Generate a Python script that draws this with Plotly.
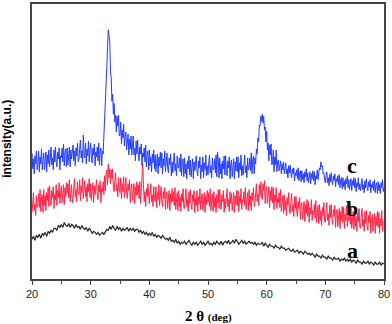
import plotly.graph_objects as go

# XRD patterns: b and c read at a 0.125 deg step, a at 0.25 deg, 20-80 deg
two_theta_fine = [20 + 0.125 * i for i in range(481)]
two_theta = [20 + 0.25 * i for i in range(241)]

intensity_c = [
    127, 111, 121, 106, 124, 116, 129, 110, 114, 129, 108, 123, 116, 131, 110, 120,
    127, 110, 122, 128, 108, 125, 116, 130, 113, 124, 133, 115, 122, 110, 130, 118,
    133, 118, 113, 128, 121, 132, 110, 124, 122, 132, 118, 136, 114, 128, 131, 113,
    132, 115, 127, 133, 113, 130, 121, 135, 135, 119, 129, 114, 132, 124, 137, 118,
    120, 131, 140, 122, 129, 117, 145, 125, 122, 137, 116, 131, 124, 139, 118, 128,
    137, 122, 117, 132, 125, 136, 114, 128, 123, 133, 119, 137, 115, 129, 132, 114,
    129, 126, 143, 147, 169, 180, 213, 233, 251, 245, 239, 209, 203, 179, 186, 166,
    177, 158, 165, 148, 164, 154, 165, 144, 145, 158, 136, 150, 142, 156, 134, 143,
    148, 130, 141, 146, 125, 141, 131, 144, 125, 135, 144, 125, 132, 119, 139, 126,
    140, 124, 119, 133, 126, 136, 114, 127, 123, 132, 118, 135, 113, 126, 129, 110,
    130, 114, 123, 108, 126, 117, 130, 111, 125, 108, 120, 126, 106, 123, 114, 128,
    112, 127, 106, 121, 114, 129, 108, 118, 127, 112, 107, 122, 115, 126, 104, 118,
    107, 118, 127, 109, 116, 104, 124, 112, 112, 122, 108, 126, 104, 118, 121, 103,
    122, 106, 116, 101, 119, 111, 124, 105, 120, 103, 115, 121, 101, 118, 109, 123,
    124, 109, 104, 119, 112, 123, 101, 115, 108, 123, 102, 117, 110, 125, 104, 114,
    105, 116, 125, 107, 114, 102, 122, 110, 111, 121, 107, 125, 103, 128, 120, 102,
    122, 106, 116, 101, 119, 111, 124, 105, 124, 109, 104, 119, 112, 123, 101, 115,
    120, 103, 115, 121, 101, 118, 109, 123, 108, 123, 102, 117, 110, 125, 104, 114,
    105, 116, 125, 107, 114, 102, 122, 110, 112, 122, 109, 127, 106, 120, 124, 106,
    122, 116, 131, 126, 142, 138, 155, 154, 164, 159, 166, 157, 164, 150, 153, 138,
    149, 130, 137, 119, 135, 125, 136, 115, 116, 130, 108, 123, 115, 130, 108, 118,
    120, 109, 116, 119, 106, 116, 110, 118, 106, 113, 117, 106, 111, 102, 114, 107,
    115, 106, 102, 111, 106, 112, 99, 107, 104, 110, 101, 112, 99, 107, 109, 98,
    109, 100, 106, 97, 108, 103, 111, 99, 107, 97, 104, 108, 96, 106, 101, 109,
    99, 108, 95, 104, 101, 110, 100, 107, 112, 110, 118, 113, 114, 106, 107, 100,
    97, 104, 108, 97, 102, 94, 105, 98, 107, 98, 95, 104, 99, 106, 93, 101,
    98, 104, 95, 105, 92, 100, 102, 91, 102, 93, 99, 90, 101, 96, 104, 92,
    100, 90, 97, 101, 89, 99, 94, 102, 92, 101, 88, 97, 93, 102, 90, 96,
    89, 96, 101, 90, 95, 87, 99, 92, 101, 92, 89, 98, 93, 100, 87, 95,
    92, 98, 89, 100, 87, 95, 97, 86, 98, 89, 95, 86, 97, 92, 100, 88,
    92,
]

intensity_b = [
    67, 78, 87, 69, 76, 64, 84, 72, 76, 86, 72, 90, 68, 82, 85, 67,
    90, 74, 84, 69, 87, 79, 92, 73, 94, 79, 74, 89, 82, 93, 71, 85,
    80, 95, 74, 89, 82, 97, 76, 86, 94, 77, 89, 95, 75, 92, 83, 97,
    86, 96, 82, 100, 78, 92, 95, 77, 81, 92, 101, 83, 90, 78, 98, 86,
    85, 100, 79, 94, 87, 102, 81, 91, 99, 83, 93, 78, 96, 88, 101, 82,
    96, 79, 91, 97, 77, 94, 85, 99, 100, 85, 80, 95, 88, 99, 77, 91,
    88, 98, 85, 104, 89, 105, 110, 95, 116, 102, 111, 96, 110, 101, 111, 91,
    88, 99, 107, 89, 95, 83, 102, 90, 87, 102, 81, 96, 88, 103, 82, 92,
    102, 87, 81, 96, 89, 100, 77, 91, 96, 79, 90, 96, 76, 93, 84, 98,
    85, 95, 81, 98, 76, 90, 93, 116, 95, 78, 88, 73, 91, 83, 96, 77,
    76, 87, 96, 78, 85, 73, 93, 81, 78, 93, 72, 87, 80, 95, 74, 84,
    93, 78, 73, 88, 81, 92, 70, 84, 88, 71, 83, 89, 69, 86, 77, 91,
    78, 88, 74, 92, 70, 84, 87, 69, 89, 73, 83, 68, 86, 78, 91, 72,
    71, 82, 91, 73, 80, 68, 88, 76, 90, 75, 70, 85, 78, 89, 67, 81,
    74, 89, 68, 83, 76, 91, 70, 80, 86, 69, 81, 87, 67, 84, 75, 89,
    77, 87, 73, 91, 69, 83, 86, 68, 88, 72, 82, 67, 85, 77, 90, 71,
    90, 75, 70, 85, 78, 89, 67, 81, 71, 82, 91, 73, 80, 68, 88, 76,
    86, 69, 81, 87, 67, 84, 75, 89, 74, 89, 68, 83, 76, 91, 70, 80,
    78, 88, 74, 92, 70, 84, 87, 69, 90, 74, 84, 69, 87, 79, 92, 73,
    75, 86, 96, 78, 86, 74, 95, 83, 98, 84, 80, 96, 89, 99, 76, 89,
    93, 76, 87, 93, 72, 89, 79, 93, 77, 92, 70, 85, 78, 92, 71, 81,
    77, 87, 72, 90, 68, 82, 84, 66, 85, 69, 79, 64, 82, 74, 87, 68,
    66, 77, 86, 68, 75, 63, 83, 71, 83, 68, 63, 78, 71, 82, 60, 74,
    77, 60, 72, 78, 58, 75, 66, 80, 63, 78, 57, 72, 65, 80, 59, 69,
    65, 75, 61, 79, 57, 71, 74, 56, 75, 59, 69, 54, 72, 64, 77, 58,
    57, 68, 77, 59, 66, 54, 74, 62, 75, 60, 55, 70, 63, 74, 52, 66,
    70, 53, 65, 71, 51, 68, 59, 73, 57, 72, 51, 66, 59, 74, 53, 63,
    59, 69, 55, 73, 51, 65, 68, 50, 69, 53, 63, 48, 66, 58, 71, 52,
    51, 62, 71, 53, 60, 48, 68, 56, 69, 54, 49, 64, 57, 68, 46, 60,
    65, 48, 60, 66, 46, 63, 54, 68, 52, 67, 46, 61, 54, 69, 48, 58,
    57,
]

intensity_a = [
    40, 43, 39, 44, 42, 45, 41, 46, 44, 47, 43, 48, 46, 49, 47, 51,
    51, 49, 54, 52, 55, 52, 57, 54, 53, 56, 52, 55, 54, 51, 55, 52,
    53, 50, 54, 51, 50, 52, 48, 51, 49, 46, 48, 47, 45, 47, 44, 46,
    47, 45, 48, 50, 49, 53, 50, 54, 51, 49, 53, 50, 52, 48, 51, 49,
    50, 52, 48, 51, 49, 51, 48, 50, 50, 47, 49, 46, 48, 45, 47, 44,
    46, 44, 47, 43, 45, 42, 44, 43, 41, 44, 42, 40, 41, 39, 42, 38,
    39, 37, 40, 36, 38, 35, 37, 36, 38, 35, 37, 39, 36, 34, 37, 35,
    37, 34, 36, 38, 35, 37, 34, 36, 38, 35, 36, 34, 37, 35, 38, 36,
    35, 38, 34, 37, 38, 36, 39, 35, 37, 39, 36, 40, 38, 35, 37, 39,
    36, 38, 35, 37, 38, 36, 37, 35, 37, 34, 36, 35, 35, 37, 33, 36,
    34, 32, 35, 33, 33, 31, 34, 32, 32, 30, 33, 31, 31, 29, 30, 31,
    29, 28, 30, 27, 28, 29, 26, 28, 27, 25, 28, 26, 25, 26, 24, 26,
    24, 22, 25, 23, 23, 21, 24, 22, 22, 20, 23, 21, 21, 19, 22, 20,
    20, 21, 18, 20, 19, 21, 18, 20, 18, 20, 17, 19, 18, 16, 19, 17,
    17, 15, 18, 16, 16, 18, 15, 17, 16, 14, 17, 15, 15, 17, 14, 16,
    15,
]

curve_labels = ['a', 'b', 'c']
label_x = [74.6, 74.6, 74.6]
label_y = [29, 71, 114]

fig = go.Figure()
fig.add_trace(go.Scatter(x=two_theta, y=intensity_a, mode='lines',
                         line=dict(color='#262626', width=1.2)))
fig.add_trace(go.Scatter(x=two_theta_fine, y=intensity_b, mode='lines',
                         line=dict(color='rgb(255,35,70)', width=1)))
fig.add_trace(go.Scatter(x=two_theta_fine, y=intensity_c, mode='lines',
                         line=dict(color='rgb(35,60,255)', width=1)))

for lab, lx, ly in zip(curve_labels, label_x, label_y):
    fig.add_annotation(x=lx, y=ly, text='<b>' + lab + '</b>', showarrow=False,
                       font=dict(family='Liberation Serif', size=22, color='black'))

fig.add_annotation(xref='paper', yref='paper', x=0, y=0.51, xshift=-25,
                   xanchor='center', yanchor='middle',
                   text='<b>intensity(a.u.)</b>', textangle=-90, showarrow=False,
                   font=dict(family='Liberation Sans', size=12, color='black'))
fig.add_annotation(xref='paper', yref='paper', x=0.5, y=0, yshift=-37,
                   xanchor='center', yanchor='middle',
                   text="<b>2 θ <span style='font-size:11px'>(deg)</span></b>",
                   showarrow=False,
                   font=dict(family='Liberation Serif', size=15, color='black'))

fig.update_xaxes(range=[20, 80], tickvals=[20, 30, 40, 50, 60, 70, 80],
                 ticks='outside', ticklen=4, tickwidth=1, tickcolor='#444',
                 minor=dict(dtick=5, ticks='outside', ticklen=3, tickcolor='#444'),
                 showline=True, linecolor='#444', linewidth=1.5, mirror=True,
                 showgrid=False, zeroline=False,
                 tickfont=dict(family='Liberation Sans', size=11, color='#222'))
fig.update_yaxes(range=[0, 277], showticklabels=False, ticks='',
                 showline=True, linecolor='#444', linewidth=1.5, mirror=True,
                 showgrid=False, zeroline=False)
fig.update_layout(width=392, height=324, showlegend=False,
                  margin=dict(l=32, r=7, t=2, b=45),
                  plot_bgcolor='white', paper_bgcolor='white')

# page margin off so the 392x324 figure fills the window
fig.write_html("out.html", config={'displayModeBar': False},
               post_script="document.body.style.margin = '0';")
